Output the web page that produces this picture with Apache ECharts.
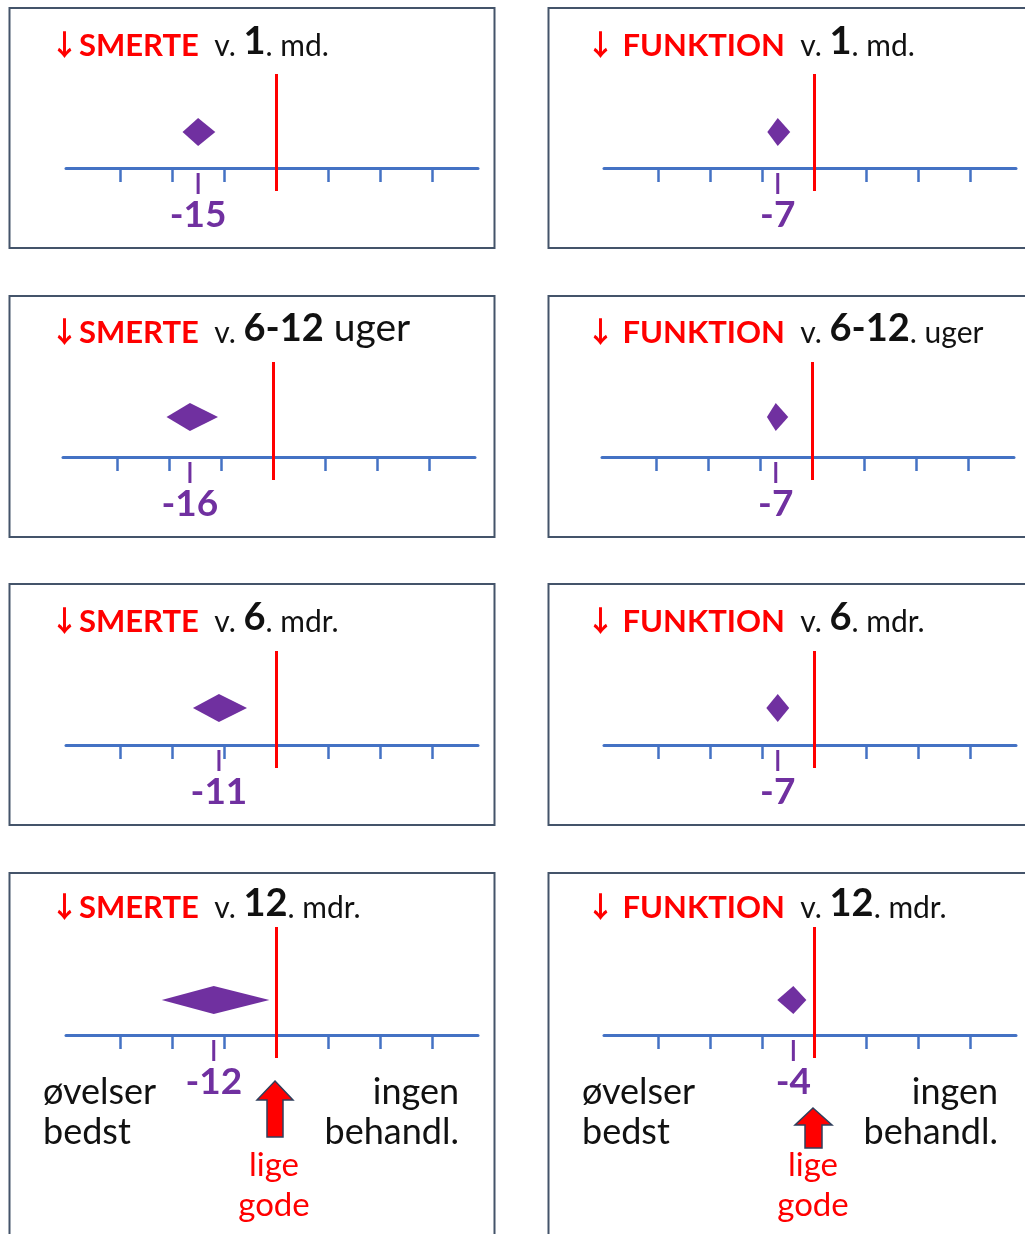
<!DOCTYPE html>
<html>
<head>
<meta charset="utf-8">
<script src="https://cdn.jsdelivr.net/npm/echarts@6.0.0/dist/echarts.min.js"></script>
<style>
  body { margin: 0; background: #fff; }
</style>
</head>
<body>
<div id="myChart" style="width: 1025px; height: 1234px;"></div>
<script>
  // tidspunkter og forskel (øvelser minus ingen behandling) med konfidensinterval
  const timepoints = ['1', '6-12', '6', '12']
  const smerteUnits = ['. md.', ' uger', '. mdr.', '. mdr.']
  const funktionUnits = ['. md.', '. uger', '. mdr.', '. mdr.']
  const smerteEst = [-15, -16, -11, -12]
  const smerteLow = [-18, -20.5, -16, -22]
  const smerteHigh = [-11.7, -10.6, -5.6, -1.3]
  const funktionEst = [-7, -7, -7, -4]
  const funktionLow = [-9, -8.7, -9.2, -7.1]
  const funktionHigh = [-4.6, -4.6, -4.8, -1.5]
  const axisTicks = [-30, -20, -10, 10, 20, 30]

  // layout
  const rowAxisY = [168, 457, 745, 1035]
  const colAxisX = [[66, 63, 66, 66], [604, 602, 604, 604]]
  const rowAbove = [94, 95, 94, 108]
  const rowBelow = 23
  const diamondLift = [36, 40, 37, 35]
  const titleY = [44, 331, 620, 906]
  const smerteUnitStyle = ['v', 'big', 'v', 'v']

  const PURPLE = '#7030A0'
  const RED = '#FF0000'
  const BLUE = '#4472C4'
  const FONT = 'Lato'

  function makeRender(row) {
    return function (params, api) {
      let est = api.value(0), lo = api.value(1), hi = api.value(2)
      let c = api.coord([est, diamondLift[row]])
      let l = api.coord([lo, diamondLift[row]])
      let r = api.coord([hi, diamondLift[row]])
      let base = api.coord([est, 0])
      let h = 14
      return {
        type: 'group',
        children: [
          {
            type: 'polygon',
            shape: {points: [[l[0], c[1]], [c[0], c[1] - h], [r[0], c[1]], [c[0], c[1] + h]]},
            style: {fill: PURPLE}
          },
          {
            type: 'line',
            shape: {x1: base[0], y1: base[1] + 5, x2: base[0], y2: base[1] + 26},
            style: {stroke: PURPLE, lineWidth: 3}
          },
          {
            type: 'text',
            x: base[0],
            y: base[1] + 47,
            style: {
              text: String(est), fill: PURPLE, fontFamily: FONT, fontWeight: 'bold', fontSize: 37,
              align: 'center', verticalAlign: 'middle'
            }
          }
        ]
      }
    }
  }

  const richStyle = {
    arrow: {color: RED, fontSize: 29, fontWeight: 'bold', fontFamily: 'Noto Sans CJK SC', lineHeight: 44, verticalAlign: 'bottom', padding: [0, 0, 2, 0]},
    name: {color: RED, fontSize: 31, fontWeight: 'bold', fontFamily: FONT, lineHeight: 44, verticalAlign: 'bottom'},
    v: {color: '#111', fontSize: 30, fontWeight: 'normal', fontFamily: FONT, lineHeight: 44, verticalAlign: 'bottom'},
    num: {color: '#111', fontSize: 38, fontWeight: 'bold', fontFamily: FONT, lineHeight: 44, verticalAlign: 'bottom'},
    big: {color: '#111', fontSize: 39, fontWeight: 'normal', fontFamily: FONT, lineHeight: 44, verticalAlign: 'bottom'}
  }

  let grid = [], xAxis = [], yAxis = [], series = [], title = []
  for (let col = 0; col < 2; col++) {
    for (let row = 0; row < 4; row++) {
      let i = col * 4 + row
      grid.push({
        left: colAxisX[col][row], width: 412,
        top: rowAxisY[row] - rowAbove[row], height: rowAbove[row] + rowBelow
      })
      xAxis.push({
        type: 'value', gridIndex: i, min: -40.4, max: 38.8,
        axisLine: {onZero: true, lineStyle: {color: BLUE, width: 3}},
        axisTick: {show: true, length: 14, customValues: axisTicks, lineStyle: {color: BLUE, width: 2.5}},
        axisLabel: {show: false},
        splitLine: {show: false}
      })
      yAxis.push({type: 'value', gridIndex: i, min: -rowBelow, max: rowAbove[row], show: false})
      let est = col === 0 ? smerteEst : funktionEst
      let lo = col === 0 ? smerteLow : funktionLow
      let hi = col === 0 ? smerteHigh : funktionHigh
      series.push({
        type: 'custom',
        xAxisIndex: i,
        yAxisIndex: i,
        data: [[est[row], lo[row], hi[row]]],
        renderItem: makeRender(row),
        markLine: {
          silent: true, symbol: 'none', label: {show: false},
          lineStyle: {color: RED, width: 3, type: 'solid'},
          data: [{xAxis: 0}]
        },
        z: 5
      })
      let text
      if (col === 0) {
        text = '{arrow|↓}{name|SMERTE}{v|  v. }{num|' + timepoints[row] + '}{' + smerteUnitStyle[row] + '|' + smerteUnits[row] + '}'
      } else {
        text = '{arrow|↓}{name| FUNKTION}{v|  v. }{num|' + timepoints[row] + '}{v|' + funktionUnits[row] + '}'
      }
      title.push({
        text: text,
        left: col === 0 ? 50 : 586,
        top: titleY[row] - 27,
        padding: 0,
        textStyle: {fontWeight: 'normal', rich: richStyle}
      })
    }
  }

  let graphic = []
  // rammer om panelerne
  const boxTop = [8, 296, 584, 873]
  const boxHeight = [240, 241, 241, 400]
  for (let row = 0; row < 4; row++) {
    graphic.push({type: 'rect', shape: {x: 9.5, y: boxTop[row], width: 485, height: boxHeight[row]},
      style: {fill: null, stroke: '#44546A', lineWidth: 2}, silent: true})
    graphic.push({type: 'rect', shape: {x: 548.5, y: boxTop[row], width: 520, height: boxHeight[row]},
      style: {fill: null, stroke: '#44546A', lineWidth: 2}, silent: true})
  }
  // forklaring under nederste række
  const sideFont = {fontFamily: FONT, fontSize: 36, lineHeight: 40, fill: '#111'}
  const equalFont = {fontFamily: FONT, fontSize: 33, lineHeight: 40, fill: RED}
  const legendX = [[43, 459, 274], [582, 998, 813]]
  legendX.forEach(function (xs) {
    graphic.push({type: 'text', x: xs[0], y: 1072, style: Object.assign({text: 'øvelser\nbedst', align: 'left'}, sideFont)})
    graphic.push({type: 'text', x: xs[1], y: 1072, style: Object.assign({text: 'ingen\nbehandl.', align: 'right'}, sideFont)})
    graphic.push({type: 'text', x: xs[2], y: 1145, style: Object.assign({text: 'lige\ngode', align: 'center'}, equalFont)})
  })
  graphic.push({type: 'polygon', shape: {points: [[275, 1081], [293, 1100], [283, 1100], [283, 1137], [267, 1137], [267, 1100], [257, 1100]]},
    style: {fill: RED, stroke: '#2F3F5C', lineWidth: 1.5}})
  graphic.push({type: 'polygon', shape: {points: [[813, 1108], [832, 1125], [822, 1125], [822, 1148], [805, 1148], [805, 1125], [795, 1125]]},
    style: {fill: RED, stroke: '#2F3F5C', lineWidth: 1.5}})

  let myChart = echarts.init(document.getElementById('myChart'))
  myChart.setOption({
    backgroundColor: '#fff',
    animation: false,
    title: title,
    grid: grid,
    xAxis: xAxis,
    yAxis: yAxis,
    series: series,
    graphic: graphic
  })
</script>
</body>
</html>
